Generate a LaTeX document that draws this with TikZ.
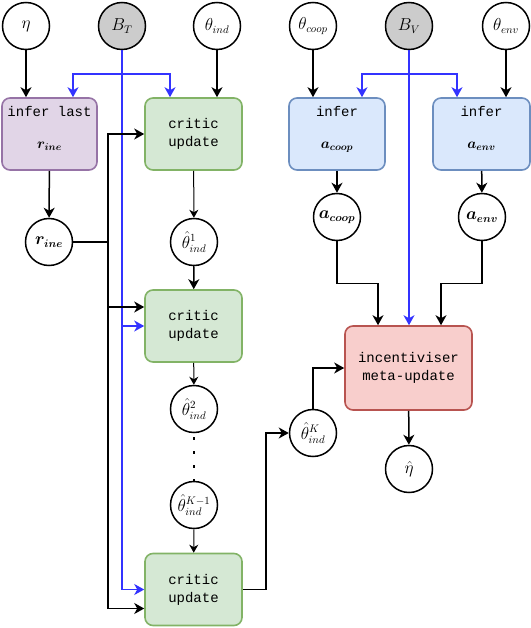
\documentclass[tikz,border=0pt]{standalone}
\usepackage{amsmath}
\usepackage{amssymb}
\usepackage{bm}
\usepackage{fontspec}
\setmonofont{Liberation Mono}
\usetikzlibrary{arrows.meta,positioning}
\definecolor{inferfill}{HTML}{E1D5E7}
\definecolor{inferdraw}{HTML}{9673A6}
\definecolor{criticfill}{HTML}{D5E8D4}
\definecolor{criticdraw}{HTML}{82B366}
\definecolor{actfill}{HTML}{DAE8FC}
\definecolor{actdraw}{HTML}{6C8EBF}
\definecolor{metafill}{HTML}{F8CECC}
\definecolor{metadraw}{HTML}{B85450}
\definecolor{obsgray}{HTML}{CCCCCC}
\definecolor{batchblue}{HTML}{3333FF}

\begin{document}
\begin{tikzpicture}[
  x=1pt, y=-1pt,
  var/.style={circle, draw, line width=1.5pt, minimum size=47pt, inner sep=0pt, font=\fontsize{16}{18}\selectfont},
  obs/.style={var, fill=obsgray},
  box/.style={draw, rounded corners=8pt, line width=1.6pt, align=center, inner sep=2pt, minimum height=72pt, font=\fontsize{14}{18}\selectfont\ttfamily},
  arr/.style={-{Stealth[length=10pt, width=11pt, inset=3pt]}, line width=1.5pt},
  tarr/.style={-{Stealth[length=8pt, width=9pt, inset=2.5pt]}, line width=1pt},
  barr/.style={-{Stealth[length=10pt, width=11pt, inset=3pt]}, line width=1.5pt, batchblue}
]
\useasboundingbox (0,0) rectangle (530,628);
% inputs
\node[var] (eta) at (26,26) {$\eta$};
\node[obs] (BT) at (122,26) {$B_T$};
\node[var] (thind) at (217,26) {$\theta_{ind}$};
\node[var] (thcoop) at (313,26) {$\theta_{coop}$};
\node[obs] (BV) at (409,26) {$B_V$};
\node[var] (thenv) at (506,26) {$\theta_{env}$};
% first row of boxes
\node[box, fill=inferfill, draw=inferdraw, minimum width=95pt] (inferr) at (49.5,134) {infer last\\[14pt]$\bm{r_{ine}}$\\[-4pt]\mbox{}};
\node[box, fill=criticfill, draw=criticdraw, minimum width=97pt] (crit1) at (193.5,134) {critic\\update};
\node[box, fill=actfill, draw=actdraw, minimum width=96pt] (infca) at (337,134) {infer\\[14pt]$\bm{a_{coop}}$\\[-4pt]\mbox{}};
\node[box, fill=actfill, draw=actdraw, minimum width=97pt] (infea) at (481.5,134) {infer\\[14pt]$\bm{a_{env}}$\\[-4pt]\mbox{}};
% intermediate variables
\node[var] (rine) at (49,242) {$\bm{r_{ine}}$};
\node[var] (th1) at (194,242) {$\hat{\theta}^{1}_{ind}$};
\node[var] (acoop) at (337,217) {$\bm{a_{coop}}$};
\node[var] (aenv) at (482,217) {$\bm{a_{env}}$};
\node[box, fill=criticfill, draw=criticdraw, minimum width=97pt] (crit2) at (193.5,326) {critic\\update};
\node[var] (th2) at (194,409) {$\hat{\theta}^{2}_{ind}$};
\node[var] (thK1) at (194,505) {$\hat{\theta}^{K-1}_{ind}$};
\node[box, fill=criticfill, draw=criticdraw, minimum width=97pt] (crit3) at (193.5,589.5) {critic\\update};
\node[var] (thK) at (313,433) {$\hat{\theta}^{K}_{ind}$};
\node[box, fill=metafill, draw=metadraw, minimum width=127pt, minimum height=84pt] (inc) at (408.5,368) {incentiviser\\meta-update};
\node[var] (etahat) at (409,469) {$\hat{\eta}$};
% batch connectors
\coordinate (btj) at (122,74);
\coordinate (bvj) at (409,74);
\draw[barr] (btj) -| ([xshift=23.5pt]inferr.north);
\draw[barr] (btj) -| ([xshift=-23.5pt]crit1.north);
\draw[barr] (BT.south) -- (BT |- crit2.west) -- (crit2.west);
\draw[barr] (BT |- crit2.west) -- (BT |- crit3.west) -- (crit3.west);
\draw[barr] (bvj) -| ([xshift=25pt]infca.north);
\draw[barr] (bvj) -| ([xshift=-24.5pt]infea.north);
\draw[barr] (BV.south) -- (BV |- inc.north);
% parameter connectors
\draw[arr] (eta) -- (eta |- inferr.north);
\draw[arr] (thind) -- (thind |- crit1.north);
\draw[arr] (thcoop) -- (thcoop |- infca.north);
\draw[arr] (thenv) -- (thenv |- infea.north);
\draw[arr] (inferr) -- (rine);
\coordinate (rj) at (108,242);
\draw[line width=1.5pt] (rine.east) -- (rj);
\draw[arr] (rj) |- (crit1.west);
\draw[arr] (rj) |- ([yshift=19pt]crit2.west);
\draw[arr] (rj) |- ([yshift=-19pt]crit3.west);
% critic chain
\draw[tarr] (crit1) -- (th1);
\draw[arr] (th1) -- (crit2);
\draw[tarr] (crit2) -- (th2);
\draw[line width=2.5pt, dash pattern=on 2.5pt off 11.5pt] (th2.south) ++(0,4) -- (thK1.north);
\draw[tarr] (thK1) -- (crit3);
\draw[arr] (crit3.east) -- ++(23,0) |- (thK.west);
\draw[arr] (thK.north) |- (inc.west);
% actions to meta-update
\draw[arr] (infca) -- (acoop);
\draw[arr] (infea) -- (aenv);
\draw[arr] (acoop.south) -- ++(0,42) -| ([xshift=-30.5pt]inc.north);
\draw[arr] (aenv.south) -- ++(0,42) -| ([xshift=32.5pt]inc.north);
\draw[arr] (inc) -- (etahat);
\end{tikzpicture}
\end{document}
